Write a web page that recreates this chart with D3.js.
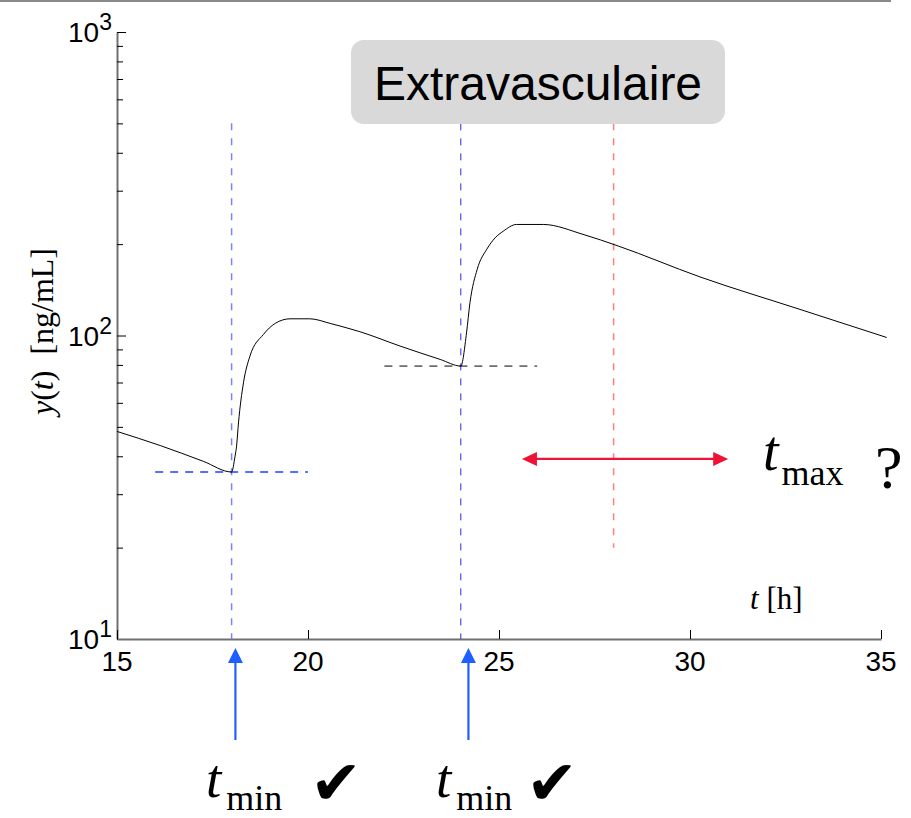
<!DOCTYPE html>
<html>
<head>
<meta charset="utf-8">
<script src="https://cdn.jsdelivr.net/npm/d3@7/dist/d3.min.js"></script>
<style>
body{margin:0;background:#fff;}
.sans{font-family:"Liberation Sans",Arial,sans-serif;}
.serif{font-family:"Liberation Serif","Times New Roman",serif;}
</style>
</head>
<body>
<div id="chart"></div>
<script>
// concentration curve
var tHours = [15.0, 16.13, 17.26, 18.0, 18.09, 18.13, 18.18, 18.31, 18.48, 18.83, 19.14, 19.53, 20.05, 20.58, 21.1, 21.36, 22.41, 23.46, 24.0, 24.15, 24.24, 24.43, 24.68, 24.9, 25.11, 25.46, 26.16, 27.2, 28.12, 30.26, 32.88, 35.15];
var conc   = [48.3, 43.4, 38.5, 35.5, 40.0, 43.2, 51.5, 69.8, 85.5, 100.7, 109.6, 113.5, 113.5, 109.6, 105.2, 102.9, 92.3, 83.4, 79.3, 102, 128.2, 165.3, 192.4, 209.9, 220.6, 232.2, 232.2, 215.4, 197.2, 156, 121.9, 98.5];

var xTicks = [15, 20, 25, 30, 35];
var yMajor = [10, 100, 1000];
var yExpo = ['1', '2', '3'];

// annotations
var doseTimes = [18, 24];
var doseColors = ['#8080ff', '#2a2ae0'];
var arrowTimes = [18.1, 24.2];
var troughSpans = [[16, 20], [22, 26]];
var troughLevels = [35.5, 79.3];
var troughColors = ['#2040ff', '#000000'];
var guideTop = 500;
var tmaxGuess = 28, tmaxBottom = 20;
var tmaxRange = [25.6, 31], tmaxLevel = 39.2;

var W = 911, H = 818;
var svg = d3.select('#chart').append('svg').attr('width', W).attr('height', H),
	x = d3.scaleLinear().domain([15, 35]).range([117, 881]),
	y = d3.scaleLog().domain([10, 1000]).range([639, 32]);

// top rule
svg.append('line').attr('x1', 0).attr('x2', 891).attr('y1', 1).attr('y2', 1)
	.attr('stroke', '#8a8a8a').attr('stroke-width', 2);

//axes
var yAxis = svg.append('g').attr('transform', 'translate(' + x(15) + ',0)')
	.call(d3.axisLeft(y).tickValues(y.ticks()).tickSizeInner(-6).tickSizeOuter(0).tickFormat(''));
yAxis.selectAll('.tick line')
	.attr('x2', function(d){ return yMajor.indexOf(d) >= 0 ? 9 : 6; })
	.attr('stroke', '#000');
var xAxis = svg.append('g').attr('transform', 'translate(0,' + y(10) + ')')
	.call(d3.axisBottom(x).tickValues(xTicks).tickSizeInner(-9).tickSizeOuter(0).tickFormat(''));
xAxis.selectAll('.tick line').attr('stroke', '#000');
svg.selectAll('.domain').attr('stroke', '#707070').attr('stroke-width', 2);

svg.selectAll('.xlab')
	.data(xTicks)
	.enter()
	.append('text')
		.attr('class', 'sans xlab')
		.attr('x', function(d){ return x(d); })
		.attr('y', y(10) + 32)
		.attr('text-anchor', 'middle')
		.attr('font-size', 28)
		.text(function(d){ return d; });

var ylab = svg.selectAll('.ylab')
	.data(yMajor)
	.enter()
	.append('text')
		.attr('class', 'sans ylab')
		.attr('x', x(15) - 5)
		.attr('y', function(d){ return y(d) + 10; })
		.attr('text-anchor', 'end')
		.attr('font-size', 28);
ylab.append('tspan').text('10');
ylab.append('tspan').attr('dy', -12).attr('font-size', 23).text(function(d, i){ return yExpo[i]; });

// axis titles
var yt = svg.append('text').attr('class', 'serif')
	.attr('transform', 'translate(53,' + ((y(10) + y(1000)) / 2 - 4) + ') rotate(-90)')
	.attr('text-anchor', 'middle').attr('font-size', 32);
yt.append('tspan').attr('font-style', 'italic').text('y');
yt.append('tspan').text('(');
yt.append('tspan').attr('font-style', 'italic').text('t');
yt.append('tspan').text(')\u00a0\u00a0[ng/mL]');

var xt = svg.append('text').attr('class', 'serif').attr('x', 750).attr('y', 609).attr('font-size', 31);
xt.append('tspan').attr('font-style', 'italic').text('t');
xt.append('tspan').text('\u00a0[h]');

// guides
svg.selectAll('.dose')
	.data(doseTimes)
	.enter()
	.append('line')
		.attr('x1', function(d){ return x(d); })
		.attr('x2', function(d){ return x(d); })
		.attr('y1', y(guideTop))
		.attr('y2', y(10))
		.attr('stroke', function(d, i){ return doseColors[i]; })
		.attr('stroke-width', function(d, i){ return i ? 1 : 1.5; })
		.attr('stroke-dasharray', '7,8');

svg.append('line')
	.attr('x1', x(tmaxGuess)).attr('x2', x(tmaxGuess))
	.attr('y1', y(guideTop)).attr('y2', y(tmaxBottom))
	.attr('stroke', '#ff7f7f').attr('stroke-width', 1.5).attr('stroke-dasharray', '7,8');

svg.selectAll('.trough')
	.data(troughSpans)
	.enter()
	.append('line')
		.attr('x1', function(d){ return x(d[0]); })
		.attr('x2', function(d){ return x(d[1]); })
		.attr('y1', function(d, i){ return y(troughLevels[i]); })
		.attr('y2', function(d, i){ return y(troughLevels[i]); })
		.attr('stroke', function(d, i){ return troughColors[i]; })
		.attr('stroke-width', function(d, i){ return i ? 1 : 1.5; })
		.attr('stroke-dasharray', '8,7');

// curve
svg.append('path')
	.datum(tHours)
	.attr('fill', 'none')
	.attr('stroke', '#000')
	.attr('stroke-width', 1)
	.attr('d', d3.line()
		.curve(d3.curveMonotoneX)
		.x(function(d){ return x(d); })
		.y(function(d, i){ return y(conc[i]); }));

// tmax double arrow
var ay = y(tmaxLevel), ax0 = x(tmaxRange[0]), ax1 = x(tmaxRange[1]), red = '#ee1236';
svg.append('line').attr('x1', ax0 + 10).attr('x2', ax1 - 10).attr('y1', ay).attr('y2', ay)
	.attr('stroke', red).attr('stroke-width', 2.2);
svg.append('polygon').attr('fill', red)
	.attr('points', [[ax0, ay], [ax0 + 15, ay - 7], [ax0 + 15, ay + 7]].join(' '));
svg.append('polygon').attr('fill', red)
	.attr('points', [[ax1, ay], [ax1 - 15, ay - 7], [ax1 - 15, ay + 7]].join(' '));

var tm = svg.append('text').attr('class', 'serif').attr('x', 763).attr('y', 470).attr('font-size', 56);
tm.append('tspan').attr('font-style', 'italic').text('t');
tm.append('tspan').attr('dx', 3).attr('dy', 15).attr('font-size', 36).text('max');
svg.append('text').attr('class', 'serif').attr('x', 875).attr('y', 488).attr('font-size', 62).text('?');

// dose arrows and tmin labels
var blue = '#1f5fff';
svg.selectAll('.darrow')
	.data(arrowTimes)
	.enter()
	.append('g')
		.attr('transform', function(d){ return 'translate(' + x(d) + ',0)'; })
		.each(function(){
			var g = d3.select(this);
			g.append('line').attr('x1', 0).attr('x2', 0).attr('y1', 660).attr('y2', 740)
				.attr('stroke', blue).attr('stroke-width', 2.2);
			g.append('polygon').attr('fill', blue).attr('points', '0,648 -7.5,663 7.5,663');
		});

var minX = [206, 436], checkX = [310, 526];
minX.forEach(function(mx, i){
	var t = svg.append('text').attr('class', 'serif').attr('x', mx).attr('y', 797).attr('font-size', 55);
	t.append('tspan').attr('font-style', 'italic').text('t');
	t.append('tspan').attr('dx', 5).attr('dy', 13).attr('font-size', 36).text('min');
	svg.append('text').attr('x', checkX[i]).attr('y', 804)
		.attr('font-family', '"DejaVu Sans"').attr('font-size', 62).text('\u2714');
});

// title box
svg.append('rect').attr('x', 351).attr('y', 40).attr('width', 374).attr('height', 84)
	.attr('rx', 13).attr('ry', 13).attr('fill', '#d9d9d9');
svg.append('text').attr('class', 'sans').attr('x', 538).attr('y', 100)
	.attr('text-anchor', 'middle').attr('font-size', 48).text('Extravasculaire');
</script>
</body>
</html>
